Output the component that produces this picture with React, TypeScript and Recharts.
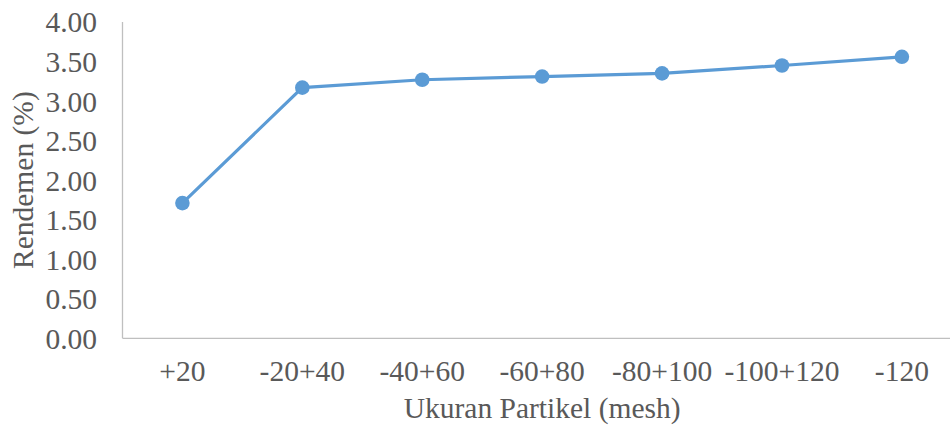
import { LineChart, Line, XAxis, YAxis } from "recharts";

const categories = ["+20", "-20+40", "-40+60", "-60+80", "-80+100", "-100+120", "-120"];
const rendemen = [1.71, 3.17, 3.27, 3.31, 3.35, 3.45, 3.56];
const yTicks = [0, 0.5, 1, 1.5, 2, 2.5, 3, 3.5, 4];

const data = categories.map((c, i) => ({ ukuran: c, rendemen: rendemen[i] }));

const font = '"Liberation Serif", "Times New Roman", serif';
const textColor = "#595959";
const axisColor = "#BFBFBF";
const fs = 29.5;

export default function App() {
  return (
    <div style={{ position: "absolute", left: 0, top: 0, width: 950, height: 428, overflow: "hidden", background: "#fff" }}>
      <LineChart
        width={980}
        height={428}
        data={data}
        margin={{ top: 22, right: 18.2, left: 0, bottom: 0 }}
        style={{ fontFamily: font }}
      >
        <XAxis
          dataKey="ukuran"
          height={89.7}
          padding={{ left: 59.9, right: 59.9 }}
          tickLine={false}
          tickMargin={16}
          axisLine={{ stroke: axisColor, strokeWidth: 1.3 }}
          tick={{ fill: textColor, fontSize: fs, fontFamily: font }}
          interval={0}
          label={{
            value: "Ukuran Partikel (mesh)",
            position: "insideBottom",
            offset: 10,
            fill: textColor,
            fontSize: fs,
            fontFamily: font,
          }}
        />
        <YAxis
          width={122.5}
          domain={[0, 4]}
          ticks={yTicks}
          tickFormatter={(v: number) => v.toFixed(2)}
          tickLine={false}
          tickMargin={19.5}
          axisLine={{ stroke: axisColor, strokeWidth: 1.3 }}
          tick={{ fill: textColor, fontSize: fs, fontFamily: font }}
          label={{
            value: "Rendemen (%)",
            angle: -90,
            position: "center",
            dx: -39,
            fill: textColor,
            fontSize: fs,
            fontFamily: font,
          }}
        />
        <Line
          type="linear"
          dataKey="rendemen"
          stroke="#5B9BD5"
          strokeWidth={3.2}
          dot={{ r: 7.3, fill: "#5B9BD5", stroke: "none" }}
          activeDot={false}
          isAnimationActive={false}
        />
      </LineChart>
    </div>
  );
}
